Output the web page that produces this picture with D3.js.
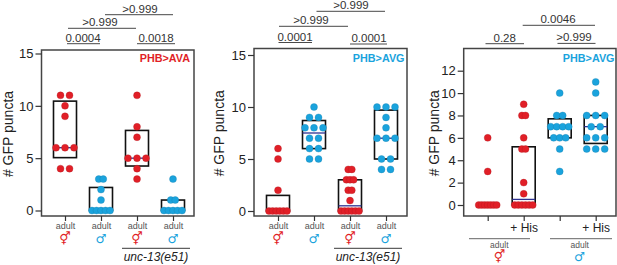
<!DOCTYPE html>
<html>
<head>
<meta charset="utf-8">
<script src="https://cdn.jsdelivr.net/npm/d3@7"></script>
<style>
  html, body { margin: 0; padding: 0; background: #fff; }
  svg { display: block; }
  text { font-family: "Liberation Sans", Arial, sans-serif; }
</style>
</head>
<body>
<div id="chart"></div>
<script>
// values, one list per group of dots
var avaValues = [
    [11, 11, 10, 9, 6, 6, 6, 4, 4],
    [3, 3, 2, 1, 0, 0, 0, 0, 0],
    [11, 8, 7, 5, 5, 5, 4, 3],
    [3, 1, 1, 0, 0, 0, 0, 0]
];
var avgValues = [
    [6, 5, 2, 0, 0, 0, 0, 0, 0],
    [10, 9, 9, 8, 8, 8, 7, 7, 6, 6, 5, 5],
    [4, 4, 3, 3, 3, 2, 2, 1, 0, 0, 0, 0, 0, 0],
    [10, 10, 10, 9, 8, 7, 7, 7, 5, 5, 4, 4]
];
var hisValues = [
    [6, 3, 0, 0, 0, 0, 0, 0, 0],
    [9, 8, 8, 6, 5, 5, 2, 1, 0, 0, 0, 0, 0, 0],
    [10, 8, 8, 7, 7, 7, 7, 6, 6, 6, 5, 3],
    [11, 10, 8, 8, 8, 7, 7, 6, 6, 6, 5, 5, 5]
];

// box low / median / high
var avaBoxes = [[5.05, 6, 10.45], [0, 0, 2.2], [4.25, 5, 7.65], [0, 0, 1]];
var avgBoxes = [[0, 0, 1.5], [6, 7.5, 8.7], [0, 0.5, 3], [5, 7, 9.7]];
var hisBoxes = [[0, 0, 0], [0, 0.5, 5.2], [6, 7, 7.7], [5.5, 7, 8]];

var avaTicks = [0, 5, 10, 15];
var avgTicks = [0, 5, 10, 15];
var hisTicks = [0, 2, 4, 6, 8, 10, 12];

var adultLabels = ["adult", "adult", "adult", "adult"];
var hisLabels = ["", "+ His", "", "+ His"];

var red = "#e11f27";
var blue = "#1aa3dd";
var herm = "\u26A5";
var male = "\u2642";

var svg = d3.select("#chart")
    .append("svg")
    .attr("width", 617)
    .attr("height", 265);

var panels = [
    {
        values: avaValues, boxes: avaBoxes, ticks: avaTicks, labels: adultLabels,
        frame: [41.5, 50, 194, 216], yDomain: [0, 15], yRange: [210.5, 53.5], xRange: [65, 173],
        title: "PHB>AVA", titleColor: red, titleX: 190, labelX: 8.5,
        colors: [red, blue, red, blue],
        brackets: [
            { text: "0.0004", x1: 67, x2: 100, y: 43.7, tx: 83 },
            { text: "0.0018", x1: 137, x2: 175, y: 43.7, tx: 156 },
            { text: ">0.999", x1: 68, x2: 136, y: 28.3, tx: 100 },
            { text: ">0.999", x1: 105, x2: 173, y: 14.7, tx: 140 }
        ]
    },
    {
        values: avgValues, boxes: avgBoxes, ticks: avgTicks, labels: adultLabels,
        frame: [254, 48.5, 407, 216], yDomain: [0, 15], yRange: [211, 55], xRange: [278, 386],
        title: "PHB>AVG", titleColor: blue, titleX: 404.5, labelX: 219,
        colors: [red, blue, red, blue],
        brackets: [
            { text: "0.0001", x1: 278.5, x2: 312, y: 42.5, tx: 295 },
            { text: "0.0001", x1: 350, x2: 387, y: 44, tx: 369 },
            { text: ">0.999", x1: 279, x2: 348, y: 26.3, tx: 311 },
            { text: ">0.999", x1: 316.5, x2: 385, y: 11.3, tx: 351 }
        ]
    },
    {
        values: hisValues, boxes: hisBoxes, ticks: hisTicks, labels: hisLabels,
        frame: [463.7, 48.5, 616, 216], yDomain: [0, 12], yRange: [205, 70.7], xRange: [487.7, 595.7],
        title: "PHB>AVG", titleColor: blue, titleX: 614.5, labelX: 434,
        colors: [red, red, blue, blue],
        brackets: [
            { text: "0.28", x1: 485.5, x2: 524, y: 43.7, tx: 504.7 },
            { text: ">0.999", x1: 557.5, x2: 595.5, y: 43.4, tx: 574 },
            { text: "0.0046", x1: 522.7, x2: 595, y: 25.3, tx: 558 }
        ]
    }
];

// rows of equal values are squeezed so the widest row of a group stays inside its box
function swarm(values) {
    var rows = d3.rollup(values, v => v.length, d => d);
    var spacing = Math.min(9, 18 / Math.max(1, d3.max(rows.values()) - 1));
    var seen = new Map();
    return values.map(function (v) {
        var i = seen.get(v) || 0;
        seen.set(v, i + 1);
        return { value: v, offset: (i - (rows.get(v) - 1) / 2) * spacing };
    });
}

function sexSymbol(x, y, color) {
    svg.append("text")
        .attr("x", x)
        .attr("y", y)
        .attr("text-anchor", "middle")
        .attr("dy", "0.35em")
        .attr("font-size", 12.5)
        .attr("fill", color)
        .style("font-family", "'DejaVu Sans'")
        .text(color === red ? herm : male);
}

panels.forEach(function (p) {
    var g = svg.append("g");

    var yScale = d3.scaleLinear().domain(p.yDomain).range(p.yRange);
    var xScale = d3.scalePoint().domain(d3.range(4)).range(p.xRange);

    g.append("rect")
        .attr("x", p.frame[0])
        .attr("y", p.frame[1])
        .attr("width", p.frame[2] - p.frame[0])
        .attr("height", p.frame[3] - p.frame[1])
        .attr("fill", "none")
        .attr("stroke", "#444")
        .attr("stroke-width", 1.5);

    var leftAxis = d3.axisLeft(yScale).tickValues(p.ticks).tickSize(6).tickPadding(2);
    var yAxis = g.append("g")
        .attr("transform", `translate(${p.frame[0]}, 0)`)
        .call(leftAxis);
    yAxis.select(".domain").remove();
    yAxis.selectAll("line").attr("stroke", "#333").attr("stroke-width", 1.2);
    yAxis.selectAll("text").attr("font-size", 13).attr("fill", "#222")
        .style("font-family", "'Liberation Sans', Arial, sans-serif");

    var bottomAxis = d3.axisBottom(xScale).tickSize(5).tickPadding(2).tickFormat(i => p.labels[i]);
    var xAxis = g.append("g")
        .attr("transform", `translate(0, ${p.frame[3]})`)
        .call(bottomAxis);
    xAxis.select(".domain").remove();
    xAxis.selectAll("line").attr("stroke", "#333").attr("stroke-width", 1.2);
    xAxis.selectAll("text")
        .attr("font-size", p.labels === hisLabels ? 12 : 9)
        .attr("fill", p.labels === hisLabels ? "#222" : "#555")
        .style("font-family", "'Liberation Sans', Arial, sans-serif");

    // y axis title
    g.append("text")
        .attr("transform", `translate(${p.labelX}, ${(p.frame[1] + p.frame[3]) / 2 + 1}) rotate(-90)`)
        .attr("text-anchor", "middle")
        .attr("dy", "0.35em")
        .attr("font-size", 14)
        .attr("fill", "#222")
        .text("# GFP puncta");

    g.append("text")
        .attr("x", p.titleX)
        .attr("y", 62)
        .attr("text-anchor", "end")
        .attr("font-size", 10.8)
        .attr("font-weight", "bold")
        .attr("fill", p.titleColor)
        .text(p.title);

    // significance brackets
    var br = g.selectAll(".bracket").data(p.brackets).enter().append("g").attr("class", "bracket");
    br.append("line")
        .attr("x1", d => d.x1).attr("x2", d => d.x2)
        .attr("y1", d => d.y).attr("y2", d => d.y)
        .attr("stroke", "#333").attr("stroke-width", 0.9);
    br.append("text")
        .attr("x", d => d.tx)
        .attr("y", d => d.y - 2)
        .attr("text-anchor", "middle")
        .attr("font-size", 11.5)
        .attr("fill", "#333")
        .text(d => d.text);

    // boxes go under the dots
    var boxes = g.selectAll(".box").data(p.boxes).enter().append("g").attr("class", "box");
    boxes.filter(d => d[2] > d[0]).append("rect")
        .attr("x", d => xScale(p.boxes.indexOf(d)) - 11.5)
        .attr("y", d => yScale(d[2]))
        .attr("width", 23)
        .attr("height", d => yScale(d[0]) - yScale(d[2]))
        .attr("fill", "none")
        .attr("stroke", "#111")
        .attr("stroke-width", 1.6);
    boxes.filter(d => d[2] > d[0]).append("line")
        .attr("x1", d => xScale(p.boxes.indexOf(d)) - 11.5)
        .attr("x2", d => xScale(p.boxes.indexOf(d)) + 11.5)
        .attr("y1", d => yScale(d[1]))
        .attr("y2", d => yScale(d[1]))
        .attr("stroke", "#2e3192")
        .attr("stroke-width", 1.3);

    p.values.forEach(function (vals, i) {
        g.selectAll(".dot" + i)
            .data(swarm(vals))
            .enter()
            .append("circle")
            .attr("class", "dot" + i)
            .attr("cx", d => xScale(i) + d.offset)
            .attr("cy", d => yScale(d.value))
            .attr("r", 3.5)
            .attr("fill", p.colors[i])
            .attr("stroke", d3.color(p.colors[i]).darker(0.8))
            .attr("stroke-width", 0.3);
    });
});

// sex symbols under the first two panels
[panels[0], panels[1]].forEach(function (p) {
    var xScale = d3.scalePoint().domain(d3.range(4)).range(p.xRange);
    p.colors.forEach(function (c, i) {
        sexSymbol(xScale(i), 238.5, c);
    });
});

// strain labels
var strainLines = [[122, 190, 156], [334, 402, 368]];
strainLines.forEach(function (s) {
    svg.append("line")
        .attr("x1", s[0]).attr("x2", s[1])
        .attr("y1", 248.3).attr("y2", 248.3)
        .attr("stroke", "#222").attr("stroke-width", 0.9);
    svg.append("text")
        .attr("x", s[2])
        .attr("y", 261)
        .attr("text-anchor", "middle")
        .attr("font-size", 12)
        .attr("font-style", "italic")
        .attr("fill", "#222")
        .text("unc-13(e51)");
});

// group labels of the third panel
var hisGroups = [[469, 530, 499.3, red], [550, 612, 579.7, blue]];
hisGroups.forEach(function (s) {
    svg.append("line")
        .attr("x1", s[0]).attr("x2", s[1])
        .attr("y1", 238.7).attr("y2", 238.7)
        .attr("stroke", "#666").attr("stroke-width", 1);
    svg.append("text")
        .attr("x", s[2])
        .attr("y", 247.5)
        .attr("text-anchor", "middle")
        .attr("font-size", 8.5)
        .attr("fill", "#555")
        .text("adult");
    sexSymbol(s[2], 256.5, s[3]);
});
</script>
</body>
</html>
